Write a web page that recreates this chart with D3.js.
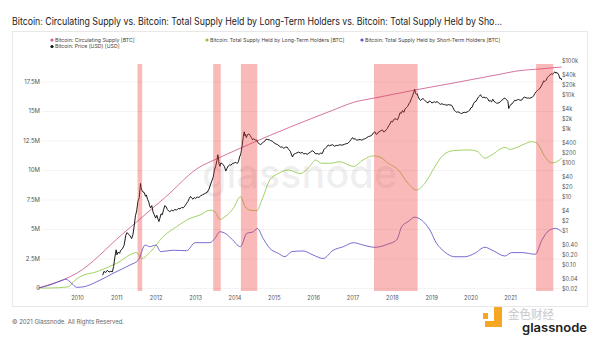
<!DOCTYPE html>
<html>
<head>
<meta charset="utf-8">
<script src="https://cdn.jsdelivr.net/npm/d3@7"></script>
<style>
  body { margin: 0; background: #fff; }
  svg { display: block; font-family: Inter, "Noto Sans", sans-serif; }
</style>
</head>
<body>
<div id="chart"></div>
<script>
// circulating supply, [year, BTC]
var supply = [
    [2009.0, 0], [2009.3, 0.33e6], [2009.6, 0.72e6], [2009.91, 1.25e6], [2011.0, 4.57e6],
    [2012.0, 7.62e6], [2012.91, 10.4e6], [2013.0, 10.55e6], [2014.0, 12.15e6], [2015.0, 13.65e6],
    [2016.0, 15.05e6], [2016.52, 15.75e6], [2017.0, 16.1e6], [2018.0, 16.8e6], [2019.0, 17.45e6],
    [2020.0, 18.12e6], [2020.36, 18.37e6], [2021.0, 18.58e6], [2021.46, 18.73e6]
];

// supply held by long-term holders
var lthSupply = [
    [2009.0, 0], [2009.27, 0], [2009.71, 0.1e6], [2009.83, 0.53e6], [2009.99, 0.96e6],
    [2010.39, 1.38e6], [2010.86, 2.09e6], [2011.34, 3.0e6], [2011.46, 2.5e6], [2011.65, 3.0e6],
    [2011.97, 4.35e6], [2012.29, 5.2e6], [2012.61, 5.9e6], [2012.85, 6.19e6], [2013.08, 6.6e6],
    [2013.2, 6.47e6], [2013.32, 5.82e6], [2013.44, 6.04e6], [2013.64, 6.75e6], [2013.81, 7.74e6],
    [2013.92, 6.9e6], [2014.04, 6.6e6], [2014.2, 6.55e6], [2014.32, 7.46e6], [2014.51, 9.15e6],
    [2014.71, 9.7e6], [2014.95, 10.0e6], [2015.23, 9.7e6], [2015.46, 10.3e6], [2015.6, 10.85e6],
    [2015.74, 10.57e6], [2015.93, 10.57e6], [2016.18, 10.7e6], [2016.5, 10.3e6], [2016.73, 10.85e6],
    [2016.97, 11.2e6], [2017.13, 11.1e6], [2017.33, 10.57e6], [2017.57, 10.0e6], [2017.8, 8.87e6],
    [2018.0, 8.3e6], [2018.2, 8.87e6], [2018.44, 10.28e6], [2018.64, 11.27e6], [2018.88, 11.64e6],
    [2019.27, 11.7e6], [2019.46, 11.55e6], [2019.63, 11.0e6], [2019.79, 11.27e6], [2020.11, 11.92e6],
    [2020.23, 11.75e6], [2020.51, 12.1e6], [2020.74, 12.4e6], [2020.86, 12.3e6], [2021.06, 11.13e6],
    [2021.22, 10.6e6], [2021.34, 10.7e6], [2021.46, 11.0e6]
];

// supply held by short-term holders
var sthSupply = [
    [2009.0, 0], [2009.27, 0.25e6], [2009.59, 0.68e6], [2009.65, 0.74e6], [2009.79, 0.4e6],
    [2009.91, 0.06e6], [2010.07, 0.1e6], [2010.39, 0.53e6], [2010.78, 1.25e6], [2011.18, 1.95e6],
    [2011.38, 2.37e6], [2011.54, 3.64e6], [2011.65, 3.5e6], [2011.8, 3.64e6], [2011.91, 3.08e6],
    [2012.2, 3.2e6], [2012.53, 3.16e6], [2012.73, 3.84e6], [2013.08, 3.84e6], [2013.2, 4.2e6],
    [2013.32, 4.77e6], [2013.42, 4.68e6], [2013.59, 4.2e6], [2013.81, 3.5e6], [2013.96, 4.63e6],
    [2014.12, 4.77e6], [2014.21, 5.05e6], [2014.35, 4.2e6], [2014.51, 3.36e6], [2014.71, 2.94e6],
    [2014.87, 2.65e6], [2015.03, 3.08e6], [2015.3, 3.14e6], [2015.54, 2.8e6], [2015.78, 2.5e6],
    [2016.02, 3.2e6], [2016.26, 3.5e6], [2016.5, 3.84e6], [2016.73, 3.64e6], [2017.01, 3.45e6],
    [2017.33, 3.73e6], [2017.53, 4.07e6], [2017.65, 5.2e6], [2017.8, 5.62e6], [2017.96, 6.0e6],
    [2018.12, 5.76e6], [2018.32, 4.92e6], [2018.48, 3.79e6], [2018.64, 3.16e6], [2018.92, 2.65e6],
    [2019.15, 2.65e6], [2019.39, 2.94e6], [2019.63, 3.45e6], [2019.83, 3.16e6], [2020.11, 2.71e6],
    [2020.27, 3.0e6], [2020.51, 3.0e6], [2020.83, 2.86e6], [2020.99, 4.07e6], [2021.15, 4.86e6],
    [2021.31, 5.05e6], [2021.46, 4.77e6]
];

// price in USD
var price = [
    [2010.53, 0.05], [2010.56, 0.065], [2010.60, 0.06], [2010.64, 0.07], [2010.68, 0.062], [2010.72, 0.065],
    [2010.76, 0.063], [2010.79, 0.09], [2010.82, 0.17], [2010.85, 0.28], [2010.87, 0.20], [2010.90, 0.24],
    [2010.93, 0.22], [2010.96, 0.27], [2011.00, 0.30], [2011.04, 0.38], [2011.08, 0.75], [2011.11, 0.90],
    [2011.14, 0.82], [2011.18, 0.72], [2011.22, 0.60], [2011.25, 0.78], [2011.28, 1.4], [2011.31, 2.8],
    [2011.34, 3.9], [2011.37, 7.5], [2011.40, 9.5], [2011.42, 18], [2011.43, 25], [2011.445, 19],
    [2011.46, 16], [2011.49, 14], [2011.52, 13.5], [2011.55, 10.5], [2011.57, 11.5], [2011.60, 8.5],
    [2011.63, 7], [2011.65, 5.5], [2011.67, 4.8], [2011.70, 5.6], [2011.73, 3.6], [2011.76, 3.0],
    [2011.79, 2.4], [2011.82, 2.9], [2011.85, 2.2], [2011.87, 1.9], [2011.89, 2.3], [2011.92, 3.2],
    [2011.95, 3.0], [2011.98, 4.2], [2012.01, 5.6], [2012.04, 5.2], [2012.07, 4.3], [2012.10, 3.9],
    [2012.13, 3.7], [2012.17, 4.1], [2012.21, 3.9], [2012.25, 4.3], [2012.29, 4.1], [2012.33, 4.6],
    [2012.37, 4.5], [2012.41, 4.9], [2012.45, 4.8], [2012.49, 5.5], [2012.53, 6.6], [2012.56, 7.4],
    [2012.59, 9.0], [2012.62, 10.4], [2012.65, 9.3], [2012.68, 8.6], [2012.71, 9.6], [2012.74, 9.1],
    [2012.78, 10.0], [2012.82, 9.7], [2012.86, 10.8], [2012.90, 11.5], [2012.94, 12.2], [2012.98, 13.0],
    [2013.02, 13.8], [2013.06, 17], [2013.10, 24], [2013.13, 30], [2013.16, 38], [2013.19, 62],
    [2013.22, 80], [2013.25, 120], [2013.27, 175], [2013.285, 140], [2013.30, 95], [2013.32, 80],
    [2013.34, 100], [2013.37, 98], [2013.40, 88], [2013.43, 78], [2013.46, 58], [2013.49, 70],
    [2013.52, 82], [2013.55, 88], [2013.58, 86], [2013.62, 96], [2013.66, 100], [2013.70, 105],
    [2013.73, 96], [2013.76, 108], [2013.79, 150], [2013.82, 190], [2013.85, 320], [2013.88, 620],
    [2013.90, 830], [2013.915, 640], [2013.93, 700], [2013.95, 560], [2013.98, 690], [2014.01, 720],
    [2014.04, 650], [2014.07, 560], [2014.10, 480], [2014.13, 520], [2014.16, 470], [2014.19, 480],
    [2014.22, 410], [2014.26, 360], [2014.29, 350], [2014.32, 370], [2014.36, 420], [2014.39, 440],
    [2014.42, 500], [2014.46, 490], [2014.50, 480], [2014.53, 455], [2014.57, 440], [2014.61, 390],
    [2014.65, 365], [2014.69, 350], [2014.73, 320], [2014.77, 290], [2014.80, 300], [2014.84, 270],
    [2014.88, 290], [2014.92, 295], [2014.96, 250], [2015.00, 220], [2015.03, 170], [2015.05, 150],
    [2015.08, 180], [2015.12, 190], [2015.16, 200], [2015.20, 210], [2015.24, 195], [2015.28, 205],
    [2015.32, 185], [2015.36, 190], [2015.40, 180], [2015.44, 195], [2015.48, 210], [2015.52, 230],
    [2015.56, 215], [2015.60, 185], [2015.64, 190], [2015.68, 180], [2015.72, 195], [2015.76, 190],
    [2015.80, 250], [2015.84, 280], [2015.87, 300], [2015.90, 340], [2015.93, 320], [2015.97, 335],
    [2016.01, 345], [2016.05, 310], [2016.09, 330], [2016.13, 325], [2016.17, 345], [2016.21, 335],
    [2016.25, 340], [2016.29, 355], [2016.33, 370], [2016.37, 380], [2016.41, 430], [2016.45, 500],
    [2016.48, 560], [2016.51, 500], [2016.54, 520], [2016.58, 470], [2016.62, 480], [2016.66, 490],
    [2016.70, 470], [2016.74, 500], [2016.78, 520], [2016.82, 560], [2016.86, 600], [2016.90, 620],
    [2016.94, 660], [2016.98, 780], [2017.01, 830], [2017.04, 700], [2017.07, 720], [2017.10, 820],
    [2017.13, 850], [2017.16, 900], [2017.19, 940], [2017.22, 820], [2017.25, 850], [2017.28, 950],
    [2017.31, 1050], [2017.34, 1250], [2017.37, 1400], [2017.40, 1700], [2017.43, 1600], [2017.46, 1900],
    [2017.49, 2000], [2017.52, 1950], [2017.55, 1850], [2017.58, 2300], [2017.61, 3000], [2017.64, 2900],
    [2017.67, 3500], [2017.70, 3100], [2017.73, 3900], [2017.76, 4200], [2017.79, 4600], [2017.82, 5500],
    [2017.85, 6200], [2017.88, 7800], [2017.91, 9500], [2017.94, 12500], [2017.96, 14700], [2017.98, 11200],
    [2018.00, 10500], [2018.02, 11000], [2018.04, 9000], [2018.07, 7500], [2018.10, 6900], [2018.13, 7600],
    [2018.16, 7800], [2018.19, 7200], [2018.22, 6600], [2018.25, 6000], [2018.28, 5900], [2018.31, 6700],
    [2018.34, 6400], [2018.37, 5800], [2018.40, 6100], [2018.43, 6300], [2018.46, 6000], [2018.49, 6400],
    [2018.52, 6100], [2018.55, 5500], [2018.58, 5300], [2018.61, 5600], [2018.64, 5200], [2018.67, 5300],
    [2018.70, 5100], [2018.73, 5000], [2018.76, 5200], [2018.80, 5100], [2018.84, 5000], [2018.87, 4300],
    [2018.90, 3600], [2018.93, 3300], [2018.96, 3100], [2018.99, 3200], [2019.02, 3100], [2019.05, 2900],
    [2019.08, 2850], [2019.11, 3000], [2019.14, 3100], [2019.18, 3050], [2019.21, 3200], [2019.24, 3300],
    [2019.27, 3600], [2019.30, 4200], [2019.33, 4400], [2019.36, 5500], [2019.39, 6300], [2019.42, 6500],
    [2019.45, 7600], [2019.48, 8800], [2019.51, 9500], [2019.53, 10200], [2019.55, 9000], [2019.58, 8400],
    [2019.61, 8700], [2019.64, 8200], [2019.67, 8400], [2019.70, 7800], [2019.73, 6600], [2019.76, 6800],
    [2019.79, 6300], [2019.82, 7500], [2019.85, 6500], [2019.88, 6200], [2019.91, 5700], [2019.94, 5800],
    [2019.97, 5900], [2020.00, 6300], [2020.03, 7000], [2020.06, 7300], [2020.09, 8100], [2020.12, 7900],
    [2020.15, 7200], [2020.18, 6500], [2020.20, 4000], [2020.22, 4600], [2020.25, 5300], [2020.28, 5500],
    [2020.31, 6200], [2020.34, 7000], [2020.37, 6800], [2020.40, 7200], [2020.43, 7400], [2020.46, 7100],
    [2020.49, 7000], [2020.52, 7300], [2020.55, 8400], [2020.58, 8700], [2020.61, 8300], [2020.64, 8100],
    [2020.67, 8200], [2020.70, 8000], [2020.73, 8300], [2020.76, 8600], [2020.79, 9400], [2020.82, 11000],
    [2020.85, 12500], [2020.88, 13500], [2020.91, 14500], [2020.94, 15500], [2020.97, 18000], [2021.00, 21000],
    [2021.03, 26000], [2021.06, 25000], [2021.09, 27500], [2021.12, 33000], [2021.15, 36000], [2021.18, 39000],
    [2021.21, 42000], [2021.24, 40000], [2021.27, 45000], [2021.30, 48000], [2021.32, 44000], [2021.35, 46000],
    [2021.38, 41000], [2021.40, 36000], [2021.42, 30000], [2021.44, 31500], [2021.46, 27500]
];

// highlighted periods [from, to]
var bubbles = [[2011.36, 2011.47], [2013.16, 2013.34], [2013.82, 2014.21], [2016.99, 2018.03], [2020.85, 2021.26]];

var supplyTicks = [0, 2.5e6, 5e6, 7.5e6, 10e6, 12.5e6, 15e6, 17.5e6];
var priceTicks = [0.02, 0.04, 0.1, 0.2, 0.4, 1, 2, 4, 10, 20, 40, 100, 200, 400, 1000, 2000, 4000, 10000, 20000, 40000, 100000];
var yearTicks = [2010, 2011, 2012, 2013, 2014, 2015, 2016, 2017, 2018, 2019, 2020, 2021];

var legendItems = [
    {name: "Bitcoin: Circulating Supply [BTC]", color: "#d9599a", x: 52, y: 40},
    {name: "Bitcoin: Price (USD) [USD]", color: "#111", x: 52, y: 46.5},
    {name: "Bitcoin: Total Supply Held by Long-Term Holders [BTC]", color: "#8cc540", x: 207, y: 40},
    {name: "Bitcoin: Total Supply Held by Short-Term Holders [BTC]", color: "#6355c9", x: 362, y: 40}
];

var width = 600, height = 338;
var plotTop = 64, plotBottom = 291, plotLeft = 38.5, plotRight = 562;

function toDate(y) {
    var yr = Math.floor(y);
    var a = new Date(Date.UTC(yr, 0, 1)), b = new Date(Date.UTC(yr + 1, 0, 1));
    return new Date(a.getTime() + (y - yr) * (b - a));
}

var svg = d3.select("#chart").append("svg")
    .attr("width", width)
    .attr("height", height);

svg.append("text")
    .attr("x", 12).attr("y", 25)
    .attr("font-size", 10.2)
    .attr("fill", "#222")
    .attr("textLength", 490)
    .attr("lengthAdjust", "spacingAndGlyphs")
    .text("Bitcoin: Circulating Supply vs. Bitcoin: Total Supply Held by Long-Term Holders vs. Bitcoin: Total Supply Held by Sho...");

svg.append("rect")
    .attr("x", 12.5).attr("y", 31.5)
    .attr("width", 575).attr("height", 275)
    .attr("fill", "none").attr("stroke", "#e8e8e8");

var x = d3.scaleTime().domain([toDate(2009.0), toDate(2021.46)]).range([plotLeft, 561.7]);
// year labels sit on their own spacing
var xLabels = d3.scaleTime().domain([toDate(2010), toDate(2021)]).range([77, 510]);
var yLeft = d3.scaleLinear().domain([0, 17.5e6]).range([288, 81.5]);
var yRight = d3.scaleLog().domain([1, 100000]).range([231, 61]);

// grid
svg.append("g").selectAll("line").data(supplyTicks).enter().append("line")
    .attr("x1", 42).attr("x2", plotRight)
    .attr("y1", function (d) { return yLeft(d) + 0.5; })
    .attr("y2", function (d) { return yLeft(d) + 0.5; })
    .attr("stroke", "#f3f3f3");

// watermark
svg.append("text")
    .attr("x", 202).attr("y", 188)
    .attr("font-size", 40)
    .attr("font-weight", 500)
    .attr("fill", "#000").attr("fill-opacity", 0.08)
    .attr("textLength", 195)
    .attr("lengthAdjust", "spacingAndGlyphs")
    .text("glassnode");

var leftAxis = d3.axisLeft(yLeft).tickValues(supplyTicks).tickSize(0).tickPadding(0)
    .tickFormat(function (d) { return d === 0 ? "0" : (d / 1e6) + "M"; });
var gl = svg.append("g").attr("transform", "translate(40,0)").call(leftAxis);
gl.select(".domain").remove();
gl.selectAll("text").attr("font-size", 6).attr("fill", "#555").attr("font-family", "Inter, sans-serif");

var rightAxis = d3.axisRight(yRight).tickValues(priceTicks).tickSize(0).tickPadding(0)
    .tickFormat(function (d) {
        if (d >= 1000) return "$" + (d / 1000) + "k";
        if (d < 1) return "$" + d.toFixed(2);
        return "$" + d;
    });
var gr = svg.append("g").attr("transform", "translate(562,0)").call(rightAxis);
gr.select(".domain").remove();
gr.selectAll("text").attr("font-size", 5.6).attr("fill", "#555").attr("font-family", "Inter, sans-serif");

var bottomAxis = d3.axisBottom(xLabels).tickValues(yearTicks.map(function (y) { return toDate(y); }))
    .tickSize(0).tickPadding(0).tickFormat(d3.utcFormat("%Y"));
var gb = svg.append("g").attr("transform", "translate(0,296)").call(bottomAxis);
gb.select(".domain").remove();
gb.selectAll("text").attr("font-size", 5.6).attr("fill", "#555").attr("font-family", "Inter, sans-serif");

svg.append("clipPath").attr("id", "plot")
    .append("rect").attr("x", plotLeft - 2).attr("y", plotTop - 4)
    .attr("width", plotRight - plotLeft + 3).attr("height", plotBottom - plotTop + 6);

var plot = svg.append("g").attr("clip-path", "url(#plot)");

var supplyLine = d3.line()
    .x(function (d) { return x(toDate(d[0])); })
    .y(function (d) { return yLeft(d[1]); })
    .curve(d3.curveMonotoneX);

var priceLine = d3.line()
    .x(function (d) { return x(toDate(d[0])); })
    .y(function (d) { return yRight(d[1]); });

plot.append("path").datum(supply).attr("d", supplyLine)
    .attr("fill", "none").attr("stroke", "#c9508c").attr("stroke-width", 0.8);
plot.append("path").datum(lthSupply).attr("d", supplyLine)
    .attr("fill", "none").attr("stroke", "#8cc540").attr("stroke-width", 0.8);
plot.append("path").datum(sthSupply).attr("d", supplyLine)
    .attr("fill", "none").attr("stroke", "#5548c2").attr("stroke-width", 0.8);
plot.append("path").datum(price).attr("d", priceLine)
    .attr("fill", "none").attr("stroke", "#000").attr("stroke-width", 0.9)
    .attr("stroke-linejoin", "round");

// highlighted periods over the lines
plot.selectAll(".bubble").data(bubbles).enter().append("rect")
    .attr("class", "bubble")
    .attr("x", function (d) { return x(toDate(d[0])); })
    .attr("width", function (d) { return x(toDate(d[1])) - x(toDate(d[0])); })
    .attr("y", plotTop).attr("height", plotBottom - plotTop)
    .attr("fill", "#f03c3c").attr("fill-opacity", 0.36);

// legend
var lg = svg.append("g").selectAll("g").data(legendItems).enter().append("g")
    .attr("transform", function (d) { return "translate(" + d.x + "," + d.y + ")"; });
lg.append("circle").attr("r", 1.6).attr("fill", function (d) { return d.color; });
lg.append("text").attr("x", 3).attr("y", 1.8)
    .attr("font-size", 5.2).attr("fill", "#444")
    .text(function (d) { return d.name; });

svg.append("text")
    .attr("x", 12).attr("y", 324)
    .attr("font-size", 6).attr("fill", "#666")
    .text("\u00a9 2021 Glassnode. All Rights Reserved.");

// corner mark
var mark = svg.append("g");
mark.append("rect").attr("x", 483).attr("y", 313).attr("width", 5).attr("height", 6).attr("fill", "#f5a623");
mark.append("path").attr("d", "M494,307 h8 v20 h-17 v-6 h9 z").attr("fill", "#f5a623");
mark.append("text").attr("x", 508).attr("y", 318.5)
    .attr("font-size", 12).attr("fill", "#c8c8c8")
    .attr("font-family", "'Noto Sans CJK SC', sans-serif")
    .attr("textLength", 46).attr("lengthAdjust", "spacingAndGlyphs")
    .text("金色财经");
mark.append("text").attr("x", 522).attr("y", 332)
    .attr("font-size", 12).attr("font-weight", 600).attr("fill", "#222")
    .attr("textLength", 65).attr("lengthAdjust", "spacingAndGlyphs")
    .text("glassnode");
</script>
</body>
</html>
